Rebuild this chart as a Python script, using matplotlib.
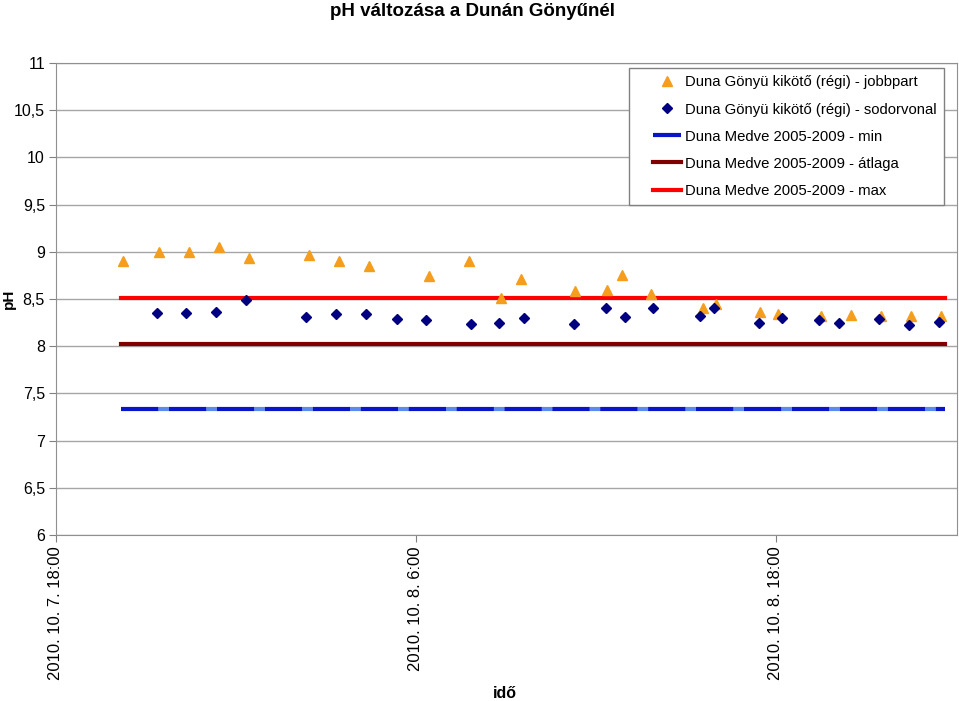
import numpy as np
import matplotlib
matplotlib.use("Agg")
import matplotlib.pyplot as plt
import matplotlib.dates as mdates
from matplotlib.lines import Line2D
from matplotlib.legend_handler import HandlerLine2D
from matplotlib.ticker import FuncFormatter, MultipleLocator

plt.rcParams['font.family'] = ['Liberation Sans', 'DejaVu Sans']

# jobbpart (right bank) measurements
jobb_time = ['2010-10-07T20:15', '2010-10-07T21:26', '2010-10-07T22:26', '2010-10-07T23:26',
             '2010-10-08T00:26', '2010-10-08T02:26', '2010-10-08T03:26', '2010-10-08T04:26',
             '2010-10-08T06:26', '2010-10-08T07:46', '2010-10-08T08:51', '2010-10-08T09:31',
             '2010-10-08T11:17', '2010-10-08T12:23', '2010-10-08T12:53', '2010-10-08T13:50',
             '2010-10-08T15:34', '2010-10-08T16:01', '2010-10-08T17:28', '2010-10-08T18:04',
             '2010-10-08T19:31', '2010-10-08T20:31', '2010-10-08T21:31', '2010-10-08T22:31',
             '2010-10-08T23:31']
jobb_ph = [8.90, 9.00, 9.00, 9.05, 8.93, 8.97, 8.90, 8.85, 8.74, 8.90, 8.51, 8.71, 8.59,
           8.60, 8.75, 8.55, 8.40, 8.45, 8.36, 8.34, 8.32, 8.33, 8.32, 8.32, 8.32]

# sodorvonal (mid-stream) measurements
sodor_time = ['2010-10-07T21:21', '2010-10-07T22:21', '2010-10-07T23:20', '2010-10-08T00:20',
              '2010-10-08T02:20', '2010-10-08T03:21', '2010-10-08T04:21', '2010-10-08T05:21',
              '2010-10-08T06:20', '2010-10-08T07:51', '2010-10-08T08:46', '2010-10-08T09:36',
              '2010-10-08T11:16', '2010-10-08T12:20', '2010-10-08T12:58', '2010-10-08T13:55',
              '2010-10-08T15:28', '2010-10-08T15:57', '2010-10-08T17:25', '2010-10-08T18:13',
              '2010-10-08T19:26', '2010-10-08T20:06', '2010-10-08T21:26', '2010-10-08T22:27',
              '2010-10-08T23:26']
sodor_ph = [8.35, 8.35, 8.36, 8.49, 8.31, 8.34, 8.34, 8.29, 8.28, 8.24, 8.25, 8.30, 8.24,
            8.40, 8.31, 8.40, 8.32, 8.40, 8.25, 8.30, 8.28, 8.25, 8.29, 8.22, 8.26]

# Duna Medve 2005-2009 reference values
ref_time = ['2010-10-07T20:10', '2010-10-08T23:38']
medve_min = [7.34, 7.34]
medve_avg = [8.02, 8.02]
medve_max = [8.51, 8.51]

jobb_time = np.array(jobb_time, dtype='datetime64[m]')
sodor_time = np.array(sodor_time, dtype='datetime64[m]')
ref_time = np.array(ref_time, dtype='datetime64[m]')

fig = plt.figure(figsize=(9.59, 7.01), dpi=100)
ax = fig.add_axes([56 / 959, 1 - 535 / 701, 901 / 959, 472 / 701])

ax.plot(jobb_time, jobb_ph, ls='none', marker='^', ms=7.5, color='#f59d1c',
        mec='#f59d1c', label='Duna Gönyü kikötő (régi) - jobbpart', zorder=5)
ax.plot(sodor_time, sodor_ph, ls='none', marker='D', ms=5.3, color='#000080',
        mec='#000080', label='Duna Gönyü kikötő (régi) - sodorvonal', zorder=5)
ax.plot(ref_time, medve_min, ls=(0, (9, 2.5)), lw=3, color='#0a14c8', gapcolor='#5a8cf0',
        label='Duna Medve 2005-2009 - min', zorder=3)
ax.plot(ref_time, medve_avg, lw=3, color='#800000',
        label='Duna Medve 2005-2009 - átlaga', zorder=3)
ax.plot(ref_time, medve_max, lw=3, color='#ff0000',
        label='Duna Medve 2005-2009 - max', zorder=3)

ax.set_ylim(6, 11)
ax.yaxis.set_major_locator(MultipleLocator(0.5))
ax.yaxis.set_major_formatter(FuncFormatter(lambda v, p: f"{v:g}".replace('.', ',')))
ax.grid(axis='y', color='#a6a6a6', lw=1)
ax.set_axisbelow(True)

ax.set_xlim(np.datetime64('2010-10-07T18:00'), np.datetime64('2010-10-09T00:02'))
ax.xaxis.set_major_locator(mdates.HourLocator(byhour=[6, 18]))


def fmt_date(v, p):
    d = mdates.num2date(v)
    return f"{d.year}. {d.month}. {d.day}. {d.hour}:{d.minute:02d}"


ax.xaxis.set_major_formatter(FuncFormatter(fmt_date))
ax.tick_params(axis='x', labelsize=12, labelrotation=90, length=5, color='#808080', pad=3)
ax.tick_params(axis='y', labelsize=11.5, length=5, color='#808080', pad=3)
for s in ax.spines.values():
    s.set_color('#909090')

ax.set_ylabel('pH', fontsize=11, fontweight='bold')
ax.yaxis.set_label_coords(-40 / 901, 0.5)
fig.text(505 / 959, 1 - 693 / 701, 'idő', fontsize=11.5, fontweight='bold', ha='center', va='center')
fig.text(473 / 959, 1 - 12 / 701, 'pH változása a Dunán Gönyűnél', fontsize=13.5,
         fontweight='bold', ha='center', va='center')

leg = ax.legend(loc='upper right', bbox_to_anchor=((944 - 56) / 901, 1 - 5 / 472),
                borderaxespad=0, fontsize=10.7, frameon=True, fancybox=False,
                edgecolor='#808080', framealpha=1, labelspacing=0.88, handlelength=3.0,
                handletextpad=0.25, borderpad=0.5,
                handler_map={Line2D: HandlerLine2D(xpad=1.1)})
leg.get_frame().set_linewidth(1)

fig.savefig('out.png', dpi=100)
